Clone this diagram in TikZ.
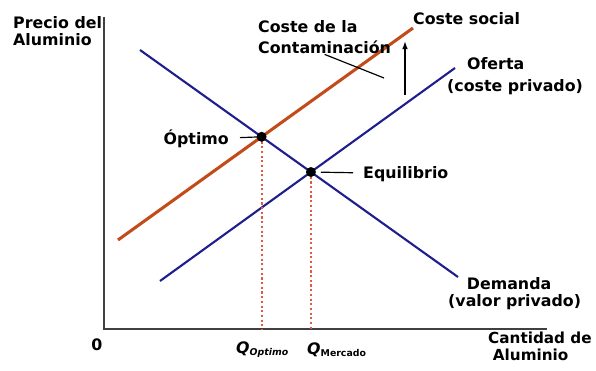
\documentclass[tikz,border=0pt]{standalone}
\usepackage{fontspec}
\usetikzlibrary{arrows.meta}
\setmainfont{DejaVu Sans}
\definecolor{navy}{RGB}{30,30,140}
\definecolor{rust}{RGB}{195,75,25}
\definecolor{dotred}{RGB}{220,90,70}
\tikzset{
  lbl/.style={inner sep=0pt, font=\fontsize{13.5}{14.5}\selectfont\bfseries},
  curve/.style={navy, line width=1.8pt},
  social/.style={rust, line width=2.6pt},
  drop/.style={dotred, line width=1.8pt, dash pattern=on 1.8pt off 2.2pt},
  pt/.style={circle, fill=black, inner sep=0pt, minimum size=0.3cm}
}
\begin{document}
\begin{tikzpicture}[x=0.03cm, y=-0.03cm]
\useasboundingbox (0,0) rectangle (596,371);
% axes
\coordinate (O) at (104,329);
\coordinate (ytop) at (104,17);
\coordinate (xend) at (547,329);
\draw[line width=1.1pt, black!75] (ytop) -- (O) -- (xend);
% curves
\coordinate (d1) at (140,50);
\coordinate (d2) at (458,277);
\coordinate (s1) at (160,281);
\coordinate (s2) at (455,68);
\coordinate (c1) at (118,240);
\coordinate (c2) at (413,28);
\draw[curve] (d1) -- (d2);
\draw[curve] (s1) -- (s2);
\draw[social] (c1) -- (c2);
\coordinate (opt) at (intersection of d1--d2 and c1--c2);
\coordinate (eq) at (intersection of d1--d2 and s1--s2);
\draw[drop] (opt) -- (opt |- O);
\draw[drop] (eq) -- (eq |- O);
% labels
\node[lbl, anchor=north west, align=left] (price) at (13,16) {Precio del\\Aluminio};
\node[lbl, anchor=north west, align=left, font=\fontsize{13.5}{18.5}\selectfont\bfseries] (cont) at (258,20) {Coste de la\\Contaminación};
\node[lbl, anchor=base west] (cs) at (413,25) {Coste social};
\node[lbl, anchor=north west, align=left, font=\fontsize{13.5}{19}\selectfont\bfseries] (sup) at (447,57) {\hspace*{17pt}Oferta\\(coste privado)};
\node[lbl, anchor=north west, align=left] (dem) at (448,277) {\hspace*{16pt}Demanda\\(valor privado)};
\node[lbl, anchor=north west, align=left, font=\fontsize{13}{14.5}\selectfont\bfseries] (qty) at (488,332) {Cantidad de\\\hspace*{4pt}Aluminio};
\node[lbl, anchor=base] (zero) at (97,350) {0};
\node[lbl, anchor=base west] (qopt) at (236,353) {\itshape Q\raisebox{-2.5pt}{\fontsize{8}{8}\selectfont Optimo}};
\node[lbl, anchor=base west] (qmer) at (307,354) {\itshape Q\raisebox{-2.5pt}{\fontsize{8}{8}\selectfont\upshape Mercado}};
\node[lbl, anchor=base east] (optl) at (229,145) {Óptimo};
\node[lbl, anchor=base west] (eql) at (363,178) {Equilibrio};
% pointers
\coordinate (cpt) at (384,78);
\draw[line width=1pt] (cont.south) -- (cpt);
\draw[line width=1pt, shorten <=0.33cm] (optl) -- (opt);
\draw[line width=1pt, shorten <=0.3cm, shorten >=0.3cm] (eq) -- (eql);
\coordinate (abot) at (405,95);
\coordinate (atop) at (405,41);
\draw[line width=1.6pt, -{Latex[length=7pt, width=5pt]}] (abot) -- (atop);
\node[pt] (optdot) at (opt) {};
\node[pt] (eqdot) at (eq) {};
\end{tikzpicture}
\end{document}
